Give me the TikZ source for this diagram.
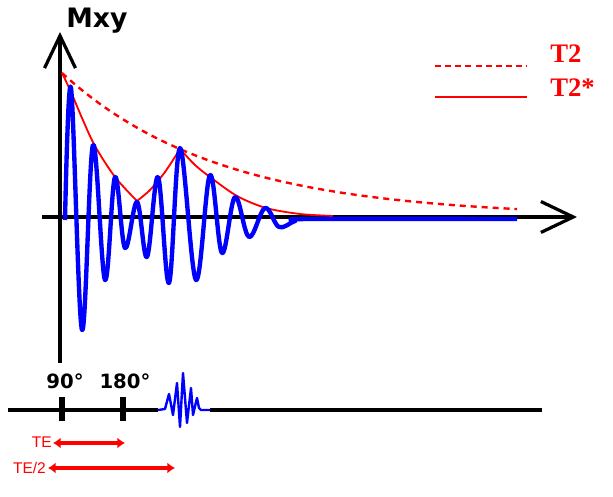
\documentclass[tikz,border=0pt]{standalone}
\usepackage{fontspec}
\setmainfont{DejaVu Sans}
\newfontfamily\legendfont{Liberation Serif}
\newfontfamily\spanfont{Liberation Sans}
\usetikzlibrary{arrows.meta}

\begin{document}
\begin{tikzpicture}[x=0.025cm, y=-0.025cm,
    axis/.style={line width=2.3pt, -{Straight Barb[length=23pt, width=22pt, line width=2.3pt]}},
    fid/.style={blue, line width=3.1pt, line join=round},
    env/.style={red, line width=1.3pt},
    envdash/.style={red, line width=1.7pt, dash pattern=on 4.3pt off 3.5pt},
    pulse/.style={black, line width=2.3pt},
    tick/.style={black, line width=4.2pt},
    span/.style={red, line width=2.2pt, {Latex[length=5.5pt, width=8pt]}-{Latex[length=5.5pt, width=8pt]}},
    lbl/.style={inner sep=0pt, anchor=base},
    tlbl/.style={inner sep=0pt, anchor=base east, red, font=\spanfont\fontsize{11}{12}\selectfont},
    leg/.style={inner sep=0pt, anchor=base west, red, font=\legendfont\bfseries\fontsize{19}{20}\selectfont}
]
\useasboundingbox (0,0) rectangle (613,497);

% Axes
\coordinate (o) at (60,217);
\coordinate (ybot) at (60,363);
\coordinate (ytop) at (60,32);
\coordinate (xleft) at (42,217);
\coordinate (xright) at (577,217);
\draw[axis] (ybot) -- (ytop);
\draw[axis] (xleft) -- (xright);
\node[lbl, font=\bfseries\fontsize{19}{19}\selectfont] (mxy) at (97,28) {Mxy};

% T2 envelope
\draw[envdash] plot[domain=62:517, samples=80] (\x, {217-144*exp(-(\x-62)/157)});

% T2* envelope
\draw[env] plot[smooth] coordinates {(62,73) (71,92) (82,118) (95,146) (115,177) (137,201)};
\draw[env] plot[smooth] coordinates {(137,201) (150,190) (165,172) (180,149)};
\draw[env] plot[smooth] coordinates {(180,149) (195,165) (210,177) (237,196) (266,208) (300,214) (333,216)};

% FID and echo
\draw[fid] plot[smooth, tension=0.6] coordinates {(65,220) (71,88) (82,330) (93,145) (105,280) (115,177) (125,248) (137,202) (147,257) (158,177) (169,283) (180,148) (196,280) (210,175) (222,253) (235,197) (249,237) (265,208) (279,227) (295,221) (310,219) (517,219)};

% Legend
\coordinate (l1a) at (435,66);
\coordinate (l1b) at (527,66);
\coordinate (l2a) at (435,97);
\coordinate (l2b) at (527,97);
\draw[red, line width=1.5pt, dash pattern=on 4.3pt off 2.9pt] (l1a) -- (l1b);
\draw[red, line width=1.5pt] (l2a) -- (l2b);
\node[leg] (t2) at (550,63) {T2};
\node[leg] (t2s) at (550,97) {T2*};

% Pulse sequence
\coordinate (seqstart) at (8,410);
\coordinate (p90) at (62,410);
\coordinate (p180) at (123,410);
\coordinate (echoa) at (158,410);
\coordinate (echob) at (210,410);
\coordinate (seqend) at (542,410);
\draw[pulse] (seqstart) -- (echoa);
\draw[pulse] (echob) -- (seqend);
\draw[blue, line width=1.7pt, line join=round] (echoa) -- (165,409) -- (169,394) -- (173,415) -- (177,383) -- (180,427) -- (183,373) -- (187,423) -- (191,388) -- (193,415) -- (197,398) -- (199,408) -- (201,410) -- (echob);
\draw[tick] ([yshift=9pt]p90) -- ([yshift=-7.5pt]p90);
\draw[tick] ([yshift=9pt]p180) -- ([yshift=-7.5pt]p180);
\node[lbl, font=\bfseries\fontsize{14}{14}\selectfont] (l90) at (65,389) {90°};
\node[lbl, font=\bfseries\fontsize{14}{14}\selectfont] (l180) at (125,389) {180°};

% Echo times
\coordinate (tea) at (53,443);
\coordinate (teb) at (125,443);
\coordinate (te2a) at (48,468);
\coordinate (te2b) at (175,468);
\draw[span] (tea) -- (teb);
\draw[span] (te2a) -- (te2b);
\node[tlbl] (te) at (52,448) {TE};
\node[tlbl] (te2) at (46,474) {TE/2};

\end{tikzpicture}
\end{document}
